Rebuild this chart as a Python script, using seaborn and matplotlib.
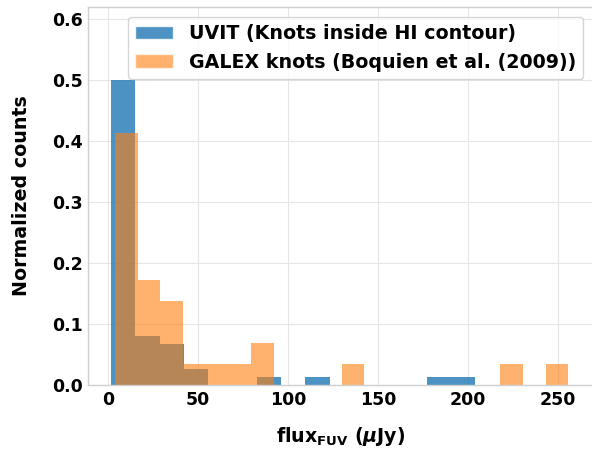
import numpy as np
import pandas as pd
import matplotlib
matplotlib.use("Agg")
import matplotlib.pyplot as plt
from matplotlib.patches import Patch
import seaborn as sns

# ---- data ----
uvit_label = "UVIT (Knots inside HI contour)"
galex_label = "GALEX knots (Boquien et al. (2009))"

uvit_range = (1.5, 204.0)          # 15 bins
uvit_heights = [0.5, 0.081, 0.067, 0.027, 0.0, 0.0, 0.0135, 0.0,
                0.0135, 0.0, 0.0, 0.0, 0.0, 0.0135, 0.0135]

galex_range = (3.7, 255.7)         # 20 bins
galex_heights = [0.414, 0.172, 0.138, 0.034, 0.034, 0.034, 0.069, 0.0,
                 0.0, 0.0, 0.034, 0.0, 0.0, 0.0, 0.0, 0.0, 0.0, 0.034,
                 0.0, 0.034]

y_ticks = [0.0, 0.1, 0.2, 0.3, 0.4, 0.5, 0.6]
x_ticks = [0, 50, 100, 150, 200, 250]

# ---- style ----
sns.set_theme(style="whitegrid", rc={
    "grid.color": "#e6e6e6", "grid.linewidth": 0.8,
    "axes.edgecolor": "#d0d0d0", "axes.linewidth": 1.0,
    "text.color": "black", "axes.labelcolor": "black",
    "xtick.color": "black", "ytick.color": "black"})
plt.rcParams['font.family'] = ['DejaVu Sans']
plt.rcParams['font.weight'] = 'bold'
plt.rcParams['mathtext.fontset'] = 'custom'
plt.rcParams['mathtext.rm'] = 'DejaVu Sans:bold'
plt.rcParams['mathtext.it'] = 'DejaVu Sans:italic:bold'
plt.rcParams['mathtext.bf'] = 'DejaVu Sans:bold'

fig = plt.figure(figsize=(5.92, 4.51), dpi=100)
ax = fig.add_axes([88/592, 66/451, 505/592, 378/451])

def centers(rng, n):
    e = np.linspace(rng[0], rng[1], n + 1)
    return 0.5 * (e[:-1] + e[1:])

df_u = pd.DataFrame({"flux": centers(uvit_range, len(uvit_heights)),
                     "w": uvit_heights})
df_g = pd.DataFrame({"flux": centers(galex_range, len(galex_heights)),
                     "w": galex_heights})

c_blue = "#1f77b4"
c_orange = "#ff7f0e"

sns.histplot(data=df_u, x="flux", weights="w", bins=len(uvit_heights),
             binrange=uvit_range, ax=ax, color=c_blue, alpha=0.8,
             linewidth=0)
sns.histplot(data=df_g, x="flux", weights="w", bins=len(galex_heights),
             binrange=galex_range, ax=ax, color=c_orange, alpha=0.6,
             linewidth=0)

ax.set_xlim(-11.3, 269.5)
ax.set_ylim(0, 0.62)
ax.set_yticks(y_ticks)
ax.set_xticks(x_ticks)
ax.spines['right'].set_visible(False)
ax.tick_params(labelsize=12.5, length=0, pad=4)
for lab in ax.get_xticklabels() + ax.get_yticklabels():
    lab.set_fontweight('bold')

ax.set_ylabel("Normalized counts", fontsize=13.7, fontweight='bold', labelpad=15)
ax.set_xlabel(r"flux$_{\mathrm{FUV}}$ ($\mu$Jy)", fontsize=13.7,
              fontweight='bold', labelpad=12)

handles = [Patch(facecolor=c_blue, alpha=0.8, label=uvit_label),
           Patch(facecolor=c_orange, alpha=0.6, label=galex_label)]
ax.legend(handles=handles, loc='upper right',
          prop={'weight': 'bold', 'size': 13.7})

fig.savefig("out.png", dpi=100)
